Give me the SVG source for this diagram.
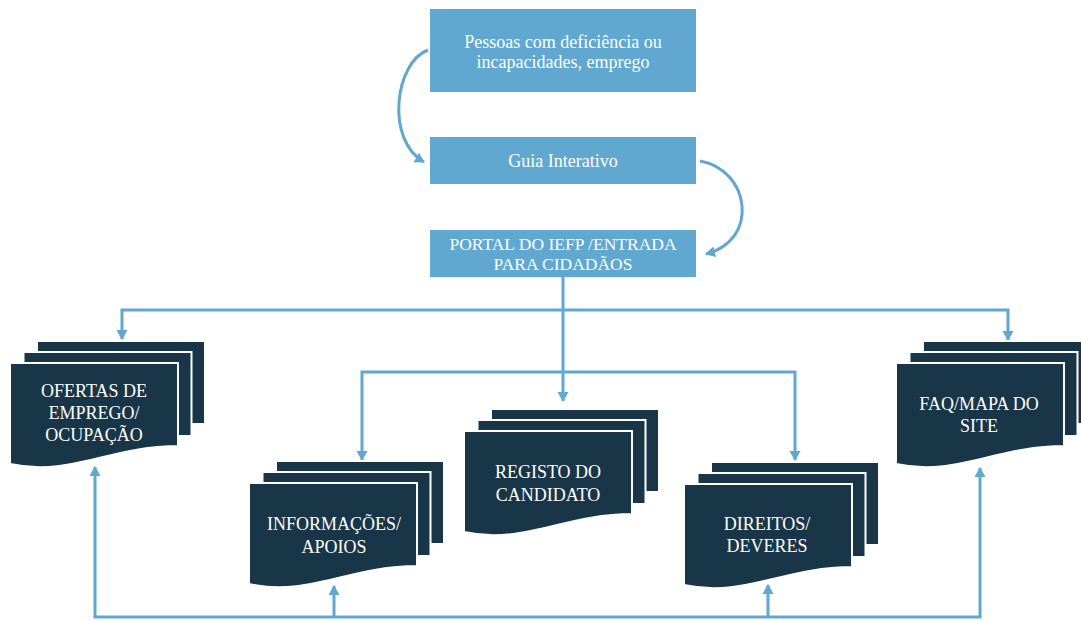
<svg xmlns="http://www.w3.org/2000/svg" xmlns:xlink="http://www.w3.org/1999/xlink" width="1081" height="621" viewBox="0 0 1081 621">
<style>
.box{fill:#60a8cf;}
.page{fill:#193648;stroke:#ffffff;stroke-width:2;}
.lt{font-family:"Liberation Serif","DejaVu Serif",serif;font-size:18px;fill:#ffffff;text-anchor:middle;}
.lc{font-family:"Liberation Serif","DejaVu Serif",serif;font-size:17.5px;fill:#ffffff;text-anchor:middle;}
.dt{font-family:"Liberation Serif","DejaVu Serif",serif;font-size:18px;fill:#ffffff;text-anchor:middle;}
.con{fill:none;stroke:#60a8cf;stroke-width:3;}
</style>
<defs>
<marker id="ah" markerUnits="userSpaceOnUse" markerWidth="12" markerHeight="12" refX="9" refY="6" orient="auto">
<path d="M0,0.5 L10,6 L0,11.5 Z" fill="#60a8cf"/>
</marker>
<g id="docstack">
<rect class="page" x="27" y="-22" width="168" height="83"/>
<rect class="page" x="13.5" y="-11" width="168" height="84"/>
<path class="page" d="M0,0 H168 V83 C100,83 60,114 0,101 Z"/>
</g>
</defs>
<rect width="1081" height="621" fill="#ffffff"/>
<g id="connectors">
<path class="con" d="M428,50 C395,62 385,140 424,162" marker-end="url(#ah)"/>
<path class="con" d="M700,161 C750,170 760,240 706,254" marker-end="url(#ah)"/>
<path class="con" d="M563,277 V401" marker-end="url(#ah)"/>
<path class="con" d="M563,310 H122 V339" marker-end="url(#ah)"/>
<path class="con" d="M563,310 H1008 V340" marker-end="url(#ah)"/>
<path class="con" d="M563,372 H362 V460" marker-end="url(#ah)"/>
<path class="con" d="M563,372 H795 V460" marker-end="url(#ah)"/>
<path class="con" d="M93.5,617 H981.5"/>
<path class="con" d="M95,617 V467" marker-end="url(#ah)"/>
<path class="con" d="M334,617 V586" marker-end="url(#ah)"/>
<path class="con" d="M768,617 V585" marker-end="url(#ah)"/>
<path class="con" d="M980,617 V468" marker-end="url(#ah)"/>
</g>
<g id="n-pessoas">
<rect class="box" x="430" y="9" width="266" height="83"/>
<text class="lt" x="563" y="48">Pessoas com deficiência ou</text>
<text class="lt" x="563" y="68">incapacidades, emprego</text>
</g>
<g id="n-guia">
<rect class="box" x="430" y="137" width="266" height="47"/>
<text class="lt" x="563" y="167">Guia Interativo</text>
</g>
<g id="n-portal">
<rect class="box" x="430" y="230" width="266" height="47"/>
<text class="lc" x="563" y="250">PORTAL DO IEFP /ENTRADA</text>
<text class="lc" x="563" y="270">PARA CIDADÃOS</text>
</g>
<g id="n-ofertas">
<use xlink:href="#docstack" transform="translate(10,363)"/>
<text class="dt" x="94" y="397">OFERTAS DE</text>
<text class="dt" x="94" y="419">EMPREGO/</text>
<text class="dt" x="94" y="441">OCUPAÇÃO</text>
</g>
<g id="n-informacoes">
<use xlink:href="#docstack" transform="translate(249,483)"/>
<text class="dt" x="334" y="530">INFORMAÇÕES/</text>
<text class="dt" x="334" y="553">APOIOS</text>
</g>
<g id="n-registo">
<use xlink:href="#docstack" transform="translate(464,431)"/>
<text class="dt" x="548" y="478">REGISTO DO</text>
<text class="dt" x="548" y="501">CANDIDATO</text>
</g>
<g id="n-direitos">
<use xlink:href="#docstack" transform="translate(684,484)"/>
<text class="dt" x="767" y="530">DIREITOS/</text>
<text class="dt" x="767" y="552">DEVERES</text>
</g>
<g id="n-faq">
<use xlink:href="#docstack" transform="translate(896,363)"/>
<text class="dt" x="979" y="410">FAQ/MAPA DO</text>
<text class="dt" x="979" y="432">SITE</text>
</g>
</svg>
